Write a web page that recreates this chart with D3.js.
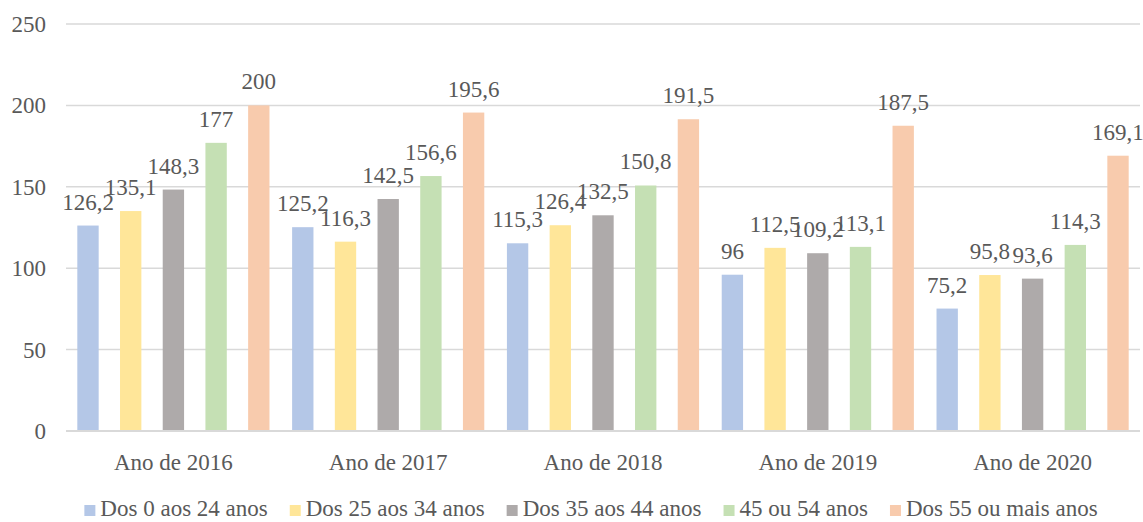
<!DOCTYPE html>
<html>
<head>
<meta charset="utf-8">
<script src="https://cdn.jsdelivr.net/npm/d3@7"></script>
<style>
  body { margin: 0; background: #fff; }
  svg text { fill: #595959; }
</style>
</head>
<body>
<div id="chart"></div>
<script>
const categories = ['Ano de 2016', 'Ano de 2017', 'Ano de 2018', 'Ano de 2019', 'Ano de 2020'];
const seriesNames = ['Dos 0 aos 24 anos', 'Dos 25 aos 34 anos', 'Dos 35 aos 44 anos', '45 ou 54 anos', 'Dos 55 ou mais anos'];
const colors = ['#B4C7E7', '#FFE699', '#AEAAAA', '#C5E0B4', '#F8CBAD'];
const age0to24 = [126.2, 125.2, 115.3, 96, 75.2];
const age25to34 = [135.1, 116.3, 126.4, 112.5, 95.8];
const age35to44 = [148.3, 142.5, 132.5, 109.2, 93.6];
const age45to54 = [177, 156.6, 150.8, 113.1, 114.3];
const age55plus = [200, 195.6, 191.5, 187.5, 169.1];
const yTicks = [0, 50, 100, 150, 200, 250];

const values = [age0to24, age25to34, age35to44, age45to54, age55plus];

const width = 1143;
const height = 522;
const margin = { top: 24, right: 3, bottom: 91, left: 66 };
const fontSize = 23;
const fontFamily = '"Liberation Serif", "DejaVu Serif", "Times New Roman", Times, serif';

const svg = d3.select('#chart')
  .append('svg')
  .attr('width', width)
  .attr('height', height)
  .attr('font-family', fontFamily);

const x0 = d3.scaleBand()
  .domain(categories)
  .range([margin.left, width - margin.right])
  .padding(0);

const x1 = d3.scaleBand()
  .domain(d3.range(seriesNames.length))
  .range([0, x0.bandwidth()])
  .paddingInner(0.5)
  .paddingOuter(0.265);

const y = d3.scaleLinear()
  .domain([0, 250])
  .range([height - margin.bottom, margin.top]);

// gridlines
svg.append('g')
  .selectAll('line')
  .data(yTicks.slice(1))
  .join('line')
    .attr('x1', margin.left)
    .attr('x2', width - margin.right)
    .attr('y1', d => y(d))
    .attr('y2', d => y(d))
    .attr('stroke', '#D9D9D9')
    .attr('stroke-width', 1.5);

// y labels
svg.append('g')
  .selectAll('text')
  .data(yTicks)
  .join('text')
    .attr('x', 46)
    .attr('y', d => y(d))
    .attr('dy', '0.35em')
    .attr('text-anchor', 'end')
    .attr('font-size', fontSize)
    .text(d => d);

// bars
const groups = svg.append('g')
  .selectAll('g')
  .data(categories)
  .join('g')
    .attr('transform', d => `translate(${x0(d)},0)`);

groups.selectAll('rect')
  .data((d, i) => values.map((s, j) => ({ j, v: s[i] })))
  .join('rect')
    .attr('x', d => x1(d.j))
    .attr('y', d => y(d.v))
    .attr('width', x1.bandwidth())
    .attr('height', d => y(0) - y(d.v))
    .attr('fill', d => colors[d.j]);

groups.selectAll('text')
  .data((d, i) => values.map((s, j) => ({ j, v: s[i] })))
  .join('text')
    .attr('x', d => x1(d.j) + x1.bandwidth() / 2)
    .attr('y', d => y(d.v) - 16)
    .attr('text-anchor', 'middle')
    .attr('font-size', fontSize)
    .text(d => String(d.v).replace('.', ','));

// x axis line
svg.append('line')
  .attr('x1', margin.left)
  .attr('x2', width - margin.right)
  .attr('y1', y(0))
  .attr('y2', y(0))
  .attr('stroke', '#D9D9D9')
  .attr('stroke-width', 2);

// x labels
svg.append('g')
  .selectAll('text')
  .data(categories)
  .join('text')
    .attr('x', d => x0(d) + x0.bandwidth() / 2)
    .attr('y', 470)
    .attr('text-anchor', 'middle')
    .attr('font-size', fontSize)
    .text(d => d);

// legend
const legend = svg.append('g');
const items = legend.selectAll('g')
  .data(seriesNames)
  .join('g');
items.append('rect')
  .attr('width', 11)
  .attr('height', 11)
  .attr('y', -11)
  .attr('fill', (d, i) => colors[i]);
items.append('text')
  .attr('x', 16)
  .attr('y', 0)
  .attr('font-size', fontSize)
  .text(d => d);

const gap = 22;
let pos = 0;
const offsets = [];
items.each(function () {
  offsets.push(pos);
  const w = d3.select(this).select('text').node().getComputedTextLength();
  pos += 16 + w + gap;
});
const total = pos - gap;
const start = 591 - total / 2;
items.attr('transform', (d, i) => `translate(${start + offsets[i]},516)`);
</script>
</body>
</html>
